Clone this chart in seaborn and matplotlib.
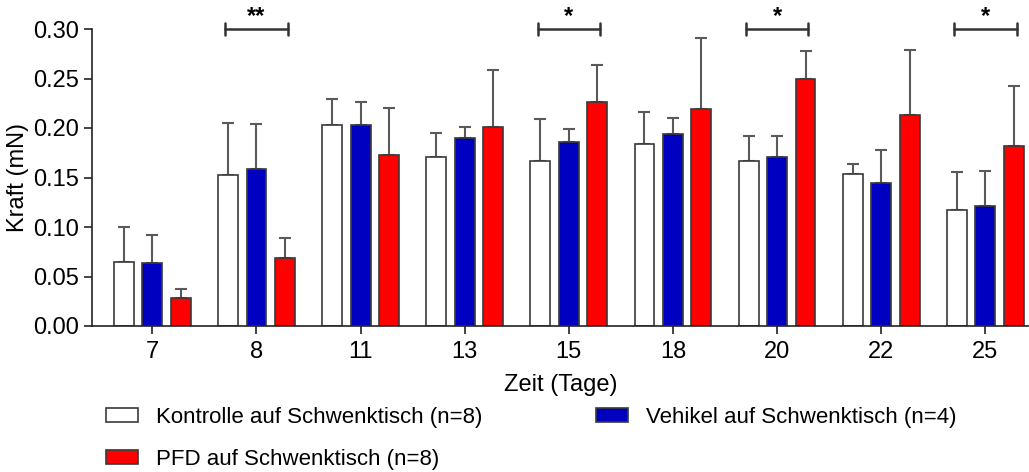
import numpy as np
import pandas as pd
import matplotlib
matplotlib.use("Agg")
import matplotlib.pyplot as plt
import seaborn as sns

# ---- data ----
days = ["7", "8", "11", "13", "15", "18", "20", "22", "25"]
groups = ["Kontrolle auf Schwenktisch (n=8)", "Vehikel auf Schwenktisch (n=4)", "PFD auf Schwenktisch (n=8)"]
kontrolle = [0.065, 0.153, 0.203, 0.171, 0.167, 0.184, 0.167, 0.154, 0.117]
vehikel = [0.064, 0.159, 0.203, 0.190, 0.186, 0.194, 0.171, 0.144, 0.121]
pfd = [0.028, 0.069, 0.173, 0.201, 0.226, 0.219, 0.250, 0.213, 0.182]
kontrolle_err = [0.035, 0.052, 0.026, 0.024, 0.042, 0.032, 0.025, 0.010, 0.039]
vehikel_err = [0.028, 0.045, 0.023, 0.011, 0.013, 0.016, 0.021, 0.034, 0.036]
pfd_err = [0.009, 0.020, 0.047, 0.058, 0.038, 0.072, 0.028, 0.066, 0.060]
sig_days = ["8", "15", "20", "25"]
sig_labels = ["**", "*", "*", "*"]
colors = ["#FFFFFF", "#0000C0", "#FF0000"]

df = pd.DataFrame({
    "Zeit": days * 3,
    "Gruppe": [g for g in groups for _ in days],
    "Kraft": kontrolle + vehikel + pfd,
})
errs = [kontrolle_err, vehikel_err, pfd_err]

sns.set_style("ticks")
plt.rcParams["font.family"] = ["Liberation Sans", "DejaVu Sans"]
plt.rcParams["text.color"] = "black"
plt.rcParams["axes.labelcolor"] = "black"

fig = plt.figure(figsize=(10.29, 4.72), dpi=100)
ax = fig.add_axes([92 / 1029, 1 - 326 / 472, 1 - 92 / 1029, (326 - 29) / 472])

sns.barplot(data=df, x="Zeit", y="Kraft", hue="Gruppe", order=days, hue_order=groups,
            palette=colors, width=0.82, gap=0.3, errorbar=None, edgecolor="#3a3a3a",
            linewidth=1.2, ax=ax, saturation=1)

bar_containers = list(ax.containers)
for cont in bar_containers:
    for b in cont:
        b.set_zorder(2)

# error bars (upper only) on top of seaborn's bars
for cont, err in zip(bar_containers, errs):
    xs = [b.get_x() + b.get_width() / 2 for b in cont]
    hs = [b.get_height() for b in cont]
    ax.errorbar(xs, hs, yerr=[np.zeros(len(err)), err], fmt="none", ecolor="#5a5a5a",
                elinewidth=1.5, capsize=4.5, capthick=1.5, zorder=1)

ax.set_ylim(0, 0.30)
ax.set_xlim(-0.58, 8.42)
ax.set_yticks(np.arange(0, 0.301, 0.05))
ax.yaxis.set_major_formatter(matplotlib.ticker.FormatStrFormatter("%.2f"))
ax.tick_params(axis="both", labelsize=17, length=6, width=1.2, color="#222222", labelcolor="black")
ax.tick_params(axis="x", pad=5)
ax.set_ylabel("Kraft (mN)", fontsize=17, labelpad=3, color="black")
ax.set_xlabel("Zeit (Tage)", fontsize=17, labelpad=8, color="black")
sns.despine(ax=ax)
for s in ["left", "bottom"]:
    ax.spines[s].set_linewidth(1.2)
    ax.spines[s].set_color("#222222")

# significance brackets
for d, lab in zip(sig_days, sig_labels):
    i = days.index(d)
    x0, x1 = i - 0.3, i + 0.3
    y = 0.30
    ax.plot([x0, x1], [y, y], color="#333333", lw=1.8, clip_on=False)
    ax.plot([x0, x0], [y - 0.006, y + 0.006], color="#333333", lw=1.8, clip_on=False)
    ax.plot([x1, x1], [y - 0.006, y + 0.006], color="#333333", lw=1.8, clip_on=False)
    ax.text((x0 + x1) / 2, y + 0.0005, lab, ha="center", va="bottom", fontsize=17,
            fontweight="bold", color="black", clip_on=False)

handles, labels = ax.get_legend_handles_labels()
ax.get_legend().remove()
order = [0, 2, 1]
fig.legend([handles[k] for k in order], [labels[k] for k in order], loc="upper left",
           bbox_to_anchor=(106 / 1029, 1 - 407 / 472),
           ncol=2, frameon=False, fontsize=16, handlelength=1.45, handleheight=0.6,
           handletextpad=0.8, columnspacing=5.1, labelspacing=0.95, borderpad=0,
           borderaxespad=0, labelcolor="black")

fig.savefig("out.png", dpi=100)
